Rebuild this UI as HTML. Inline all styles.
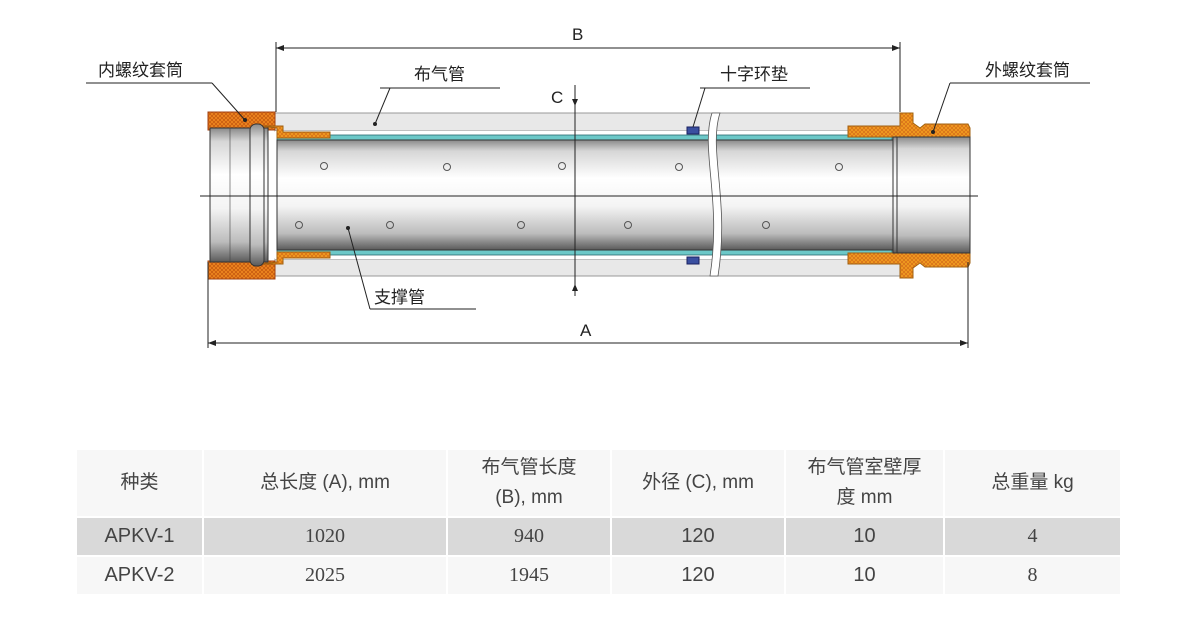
<!DOCTYPE html>
<html><head><meta charset="utf-8"><style>
body{margin:0;background:#fff;width:1178px;height:626px;overflow:hidden;font-family:"Liberation Sans","Noto Sans CJK SC",sans-serif}
svg{position:absolute;left:0;top:0}
table{position:absolute;left:77px;top:450px;border-collapse:collapse;font-family:"Liberation Sans","Noto Sans CJK SC",sans-serif;color:#444}
td{text-align:center;padding:0;border-right:2px solid #fff;border-bottom:2px solid #fff}
tr.h td{background:#f7f7f7;height:66px;font-size:19px;line-height:30px}
tr.a td{background:#d9d9d9;height:37px;font-size:20px}
tr.b td{background:#f7f7f7;height:37px;font-size:20px}
</style></head><body>
<svg width="1178" height="440" viewBox="0 0 1178 440">
<defs>
<linearGradient id="g" x1="0" y1="0" x2="0" y2="1">
<stop offset="0" stop-color="#8a8a8a"/><stop offset="0.1" stop-color="#d6d6d6"/><stop offset="0.35" stop-color="#ffffff"/><stop offset="0.6" stop-color="#f4f4f4"/><stop offset="0.85" stop-color="#bcbcbc"/><stop offset="1" stop-color="#5a5a5a"/>
</linearGradient>
<pattern id="o" width="4" height="4" patternUnits="userSpaceOnUse"><rect width="4" height="4" fill="#f2a020"/><path d="M0 0L4 4M4 0L0 4" stroke="#d8701a" stroke-width="0.8"/></pattern>
<pattern id="o2" width="4" height="4" patternUnits="userSpaceOnUse"><rect width="4" height="4" fill="#f08a20"/><path d="M0 0L4 4M4 0L0 4" stroke="#c85a10" stroke-width="0.8"/></pattern>
</defs>
<rect x="275" y="113" width="630" height="18" fill="#e8e8e8" stroke="#999"/>
<rect x="275" y="259" width="630" height="17" fill="#e8e8e8" stroke="#999"/>
<rect x="275" y="131" width="620" height="5" fill="#fff"/>
<rect x="275" y="254" width="620" height="5" fill="#fff"/>
<rect x="277" y="135" width="615" height="5" fill="#6cc8c8" stroke="#2a6a70" stroke-width="0.8"/>
<rect x="277" y="250" width="615" height="5" fill="#6cc8c8" stroke="#2a6a70" stroke-width="0.8"/>
<rect x="277" y="140" width="616" height="110" fill="url(#g)" stroke="#333"/>
<rect x="208" y="112" width="67" height="18" fill="url(#o2)" stroke="#a04010"/>
<rect x="208" y="261" width="67" height="18" fill="url(#o2)" stroke="#a04010"/>
<path d="M262 126 L283 126 L283 132 L330 132 L330 138 L277 138 L277 128 Z" fill="url(#o)" stroke="#a06010"/>
<path d="M262 264 L283 264 L283 258 L330 258 L330 252 L277 252 L277 262 Z" fill="url(#o)" stroke="#a06010"/>
<rect x="210" y="128" width="58" height="134" fill="url(#g)" stroke="#333"/>
<rect x="250" y="124" width="14" height="142" rx="6" fill="url(#g)" stroke="#333"/>
<line x1="230" y1="128" x2="230" y2="262" stroke="#444" stroke-width="0.6"/>
<path d="M848 126 L900 126 L900 113 L913 113 L913 123 L920 128 L925 124 L968 124 L970 128 L970 137 L848 137 Z" fill="url(#o)" stroke="#a06010"/>
<path d="M848 264 L900 264 L900 278 L913 278 L913 268 L920 263 L925 267 L968 267 L970 263 L970 253 L848 253 Z" fill="url(#o)" stroke="#a06010"/>
<rect x="893" y="137" width="77" height="116" fill="url(#g)" stroke="#333"/>
<line x1="897" y1="137" x2="897" y2="253" stroke="#333"/>
<g fill="none" stroke="#555" stroke-width="1">
<circle cx="324" cy="166" r="3.5"/><circle cx="447" cy="167" r="3.5"/><circle cx="562" cy="166" r="3.5"/><circle cx="679" cy="167" r="3.5"/><circle cx="839" cy="167" r="3.5"/>
<circle cx="299" cy="225" r="3.5"/><circle cx="390" cy="225" r="3.5"/><circle cx="521" cy="225" r="3.5"/><circle cx="628" cy="225" r="3.5"/><circle cx="766" cy="225" r="3.5"/>
</g>
<rect x="687" y="127" width="12" height="7" fill="#3a4fa0" stroke="#1a2060"/>
<rect x="687" y="257" width="12" height="7" fill="#3a4fa0" stroke="#1a2060"/>
<path d="M712 113 C700 150 722 200 710 276 L718 276 C730 200 708 150 720 113 Z" fill="#fff" stroke="#555" stroke-width="0.8"/>
<g stroke="#222" stroke-width="1" fill="none">
<line x1="200" y1="196" x2="978" y2="196"/>
<line x1="276" y1="48" x2="900" y2="48"/><line x1="276" y1="42" x2="276" y2="112"/><line x1="900" y1="42" x2="900" y2="112"/>
<line x1="208" y1="343" x2="968" y2="343"/><line x1="208" y1="262" x2="208" y2="348"/><line x1="968" y1="262" x2="968" y2="348"/>
<line x1="575" y1="85" x2="575" y2="296"/>
<line x1="86" y1="83" x2="212" y2="83"/><line x1="212" y1="83" x2="245" y2="120"/>
<line x1="380" y1="88" x2="500" y2="88"/><line x1="390" y1="88" x2="375" y2="124"/>
<line x1="700" y1="88" x2="810" y2="88"/><line x1="705" y1="88" x2="693" y2="127"/>
<line x1="950" y1="83" x2="1090" y2="83"/><line x1="950" y1="83" x2="933" y2="132"/>
<line x1="348" y1="228" x2="370" y2="309"/><line x1="370" y1="309" x2="476" y2="309"/>
</g>
<g fill="#222">
<path d="M276 48 l8 -3 v6z"/><path d="M900 48 l-8 -3 v6z"/>
<path d="M208 343 l8 -3 v6z"/><path d="M968 343 l-8 -3 v6z"/>
<path d="M575 106 l-3 -7 h6z"/><path d="M575 284 l-3 7 h6z"/>
<circle cx="245" cy="120" r="2"/><circle cx="375" cy="124" r="2"/><circle cx="933" cy="132" r="2"/><circle cx="348" cy="228" r="2"/>
</g>
<g font-size="17" fill="#222" font-family="Liberation Sans,Noto Sans CJK SC,sans-serif">
<text x="572" y="40">B</text><text x="580" y="336">A</text><text x="551" y="103">C</text>
<text x="98" y="76">内螺纹套筒</text><text x="414" y="80">布气管</text><text x="720" y="80">十字环垫</text><text x="985" y="76">外螺纹套筒</text><text x="374" y="303">支撑管</text>
</g>
</svg>
<table>
<tr class="h"><td style="width:125px">种类</td><td style="width:242px">总长度 (A), mm</td><td style="width:162px">布气管长度<br>(B), mm</td><td style="width:172px">外径 (C), mm</td><td style="width:157px">布气管室壁厚<br>度 mm</td><td style="width:175px;border-right:0">总重量 kg</td></tr>
<tr class="a"><td>APKV-1</td><td style="font-family:'Liberation Serif',serif">1020</td><td style="font-family:'Liberation Serif',serif">940</td><td>120</td><td>10</td><td style="font-family:'Liberation Serif',serif;border-right:0">4</td></tr>
<tr class="b"><td>APKV-2</td><td style="font-family:'Liberation Serif',serif">2025</td><td style="font-family:'Liberation Serif',serif">1945</td><td>120</td><td>10</td><td style="font-family:'Liberation Serif',serif;border-right:0">8</td></tr>
</table>
</body></html>
